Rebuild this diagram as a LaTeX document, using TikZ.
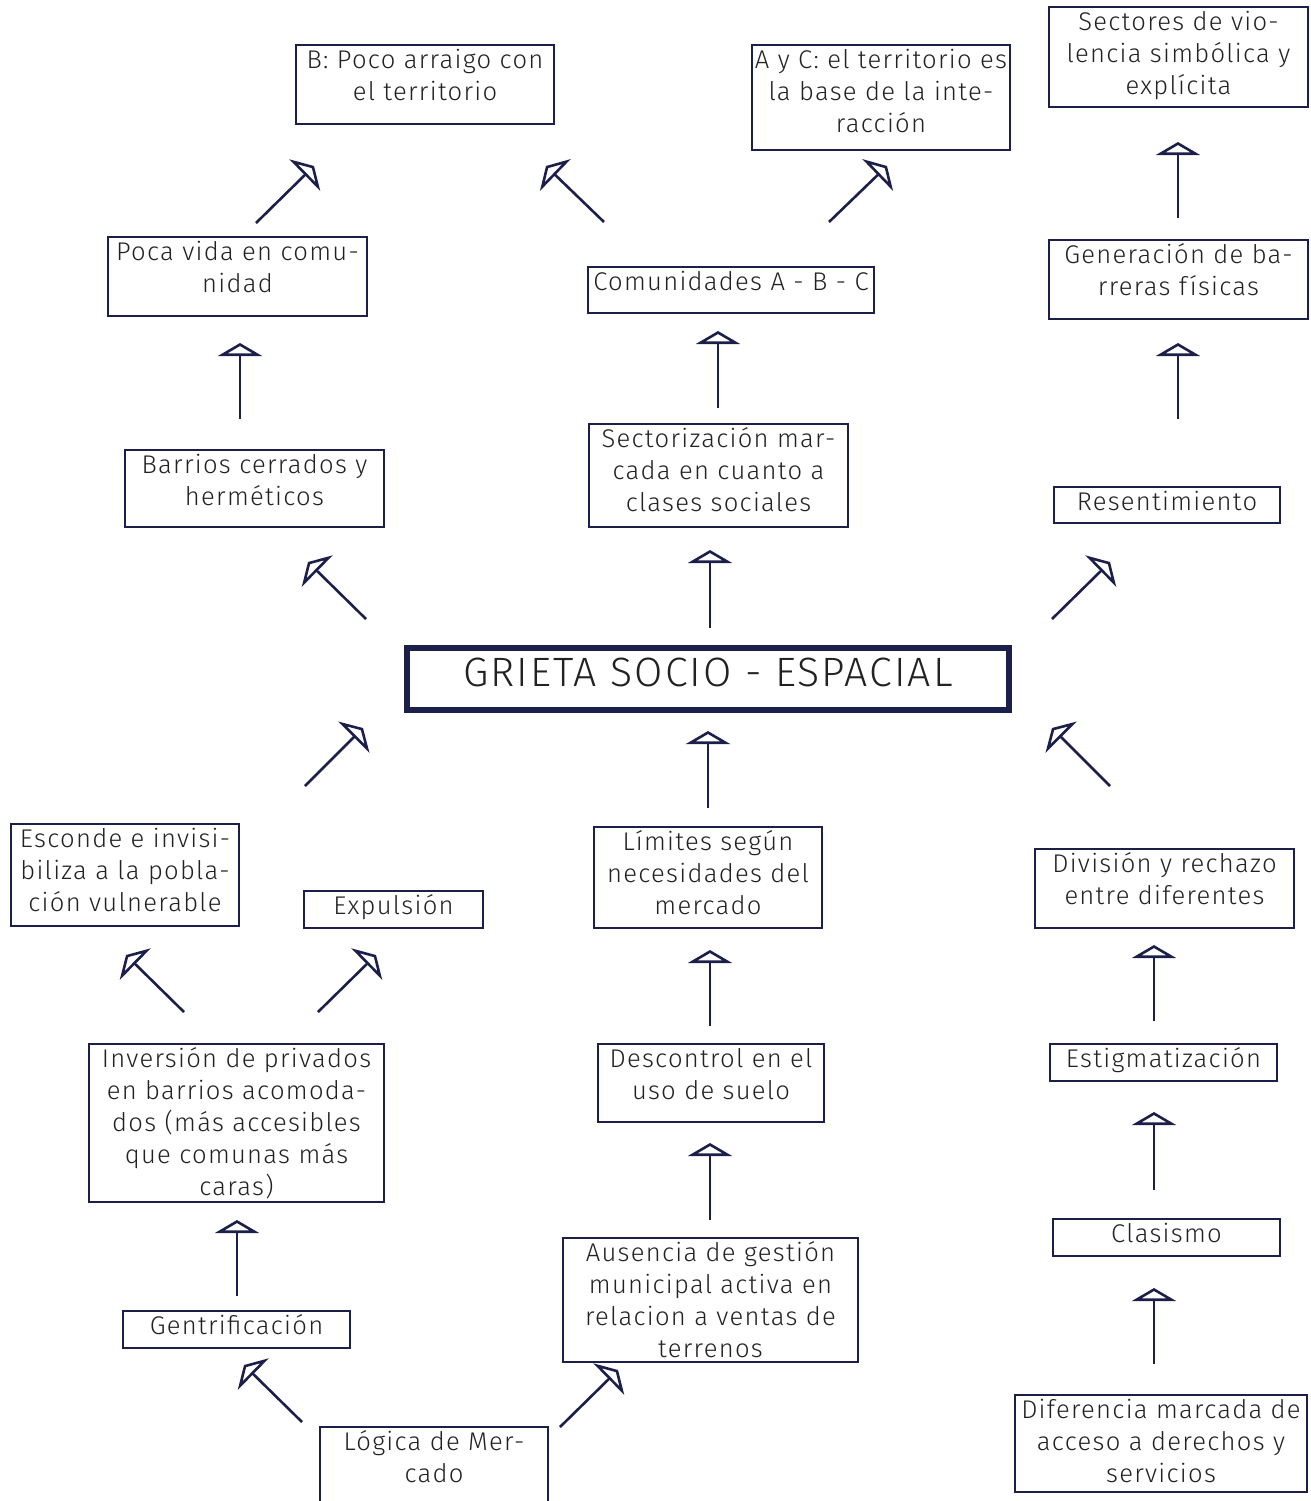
\documentclass[tikz,border=0pt]{standalone}
\usepackage{fontspec}
\setmainfont{Fira Sans}[UprightFont=* Light, LetterSpace=5]
\usetikzlibrary{arrows.meta}
\definecolor{navy}{HTML}{1C1F4A}
\definecolor{ink}{HTML}{222222}
\newcommand\tbx[4][11.5pt]{\parbox[c][#3][t]{#2}{\centering\leftskip=-30pt plus 1fil\rightskip=-30pt plus 1fil\rule{0pt}{#1}#4}}
\tikzset{
  box/.style={draw=navy, line width=1.2pt, inner sep=0pt, outer sep=0pt, anchor=north west, text=ink, font=\fontsize{12.8}{16}\selectfont},
  mainbox/.style={box, line width=3pt, font=\fontsize{20.5}{22}\selectfont},
  arr/.style={draw=navy, line width=1.3pt, -{Triangle[open, length=6.5pt, width=22pt]}}
}
\begin{document}
\begin{tikzpicture}[x=0.5pt,y=-0.5pt]
\useasboundingbox (0,0) rectangle (1311,1501);
% boxes
\node[box] (b1) at (296,45) {\tbx{129pt}{39.5pt}{B: Poco arraigo con\\el territorio}};
\node[box] (b2) at (752,45) {\tbx{129pt}{52.5pt}{A y C: el territorio es\\la base de la inte-\\racción}};
\node[box] (b3) at (1049,7) {\tbx{129.5pt}{50pt}{Sectores de vio-\\lencia simbólica y\\explícita}};
\node[box] (b4) at (108,237) {\tbx{129.5pt}{39.5pt}{Poca vida en comu-\\nidad}};
\node[box] (b5) at (588,267) {\tbx{143pt}{23pt}{Comunidades A - B - C}};
\node[box] (b6) at (1049,240) {\tbx{129.5pt}{39.5pt}{Generación de ba-\\rreras físicas}};
\node[box] (b7) at (125,450) {\tbx{129.5pt}{38.5pt}{Barrios cerrados y\\herméticos}};
\node[box] (b8) at (589,424) {\tbx{129.5pt}{51.5pt}{Sectorización mar-\\cada en cuanto a\\clases sociales}};
\node[box] (b9) at (1054,487) {\tbx{113pt}{18pt}{Resentimiento}};
\node[mainbox] (b10) at (407,648) {\tbx[19pt]{301pt}{31pt}{GRIETA SOCIO - ESPACIAL}};
\node[box] (b11) at (11,824) {\tbx{114pt}{51pt}{Esconde e invisi-\\biliza a la pobla-\\ción vulnerable}};
\node[box] (b12) at (304,891) {\tbx{89.5pt}{18.5pt}{Expulsión}};
\node[box] (b13) at (594,827) {\tbx{114pt}{50.5pt}{Límites según\\necesidades del\\mercado}};
\node[box] (b14) at (1035,849) {\tbx{129.5pt}{39.5pt}{División y rechazo\\entre diferentes}};
\node[box] (b15) at (89,1044) {\tbx{147.5pt}{79pt}{Inversión de privados\\en barrios acomoda-\\dos (más accesibles\\que comunas más\\caras)}};
\node[box] (b16) at (598,1044) {\tbx{113pt}{39pt}{Descontrol en el\\uso de suelo}};
\node[box] (b17) at (1050,1044) {\tbx{113.5pt}{18.5pt}{Estigmatización}};
\node[box] (b18) at (1053,1219) {\tbx{113.5pt}{18.5pt}{Clasismo}};
\node[box] (b19) at (123,1311) {\tbx{113.5pt}{18.5pt}{Gentrificación}};
\node[box] (b20) at (563,1238) {\tbx{147.5pt}{62pt}{Ausencia de gestión\\municipal activa en\\relacion a ventas de\\terrenos}};
\node[box] (b22) at (1015,1395) {\tbx{146pt}{48.5pt}{Diferencia marcada de\\acceso a derechos y\\servicios}};
\begin{scope}
\clip (0,0) rectangle (1311,1501);
\node[box] (b21) at (320,1427) {\tbx{114pt}{50pt}{Lógica de Mer-\\cado}};
\end{scope}
% arrow end points
\coordinate (t1) at (256,223);  \coordinate (h1) at (314,166);
\coordinate (t2) at (604,222);  \coordinate (h2) at (546,166);
\coordinate (t3) at (829,222);  \coordinate (h3) at (887,166);
\coordinate (t4) at (1178,218); \coordinate (h4) at (1178,142);
\coordinate (t5) at (240,419);  \coordinate (h5) at (240,343);
\coordinate (t6) at (718,408);  \coordinate (h6) at (718,331);
\coordinate (t7) at (1178,419); \coordinate (h7) at (1178,343);
\coordinate (t8) at (366,619);  \coordinate (h8) at (308,562);
\coordinate (t9) at (710,628);  \coordinate (h9) at (710,550);
\coordinate (t10) at (1052,619); \coordinate (h10) at (1110,562);
\coordinate (t11) at (305,786); \coordinate (h11) at (363,728);
\coordinate (t12) at (708,808); \coordinate (h12) at (708,731);
\coordinate (t13) at (1110,786); \coordinate (h13) at (1052,728);
\coordinate (t14) at (184,1012); \coordinate (h14) at (126,955);
\coordinate (t15) at (318,1012); \coordinate (h15) at (376,955);
\coordinate (t16) at (710,1026); \coordinate (h16) at (710,950);
\coordinate (t17) at (1154,1021); \coordinate (h17) at (1154,945);
\coordinate (t18) at (237,1296); \coordinate (h18) at (237,1220);
\coordinate (t19) at (710,1220); \coordinate (h19) at (710,1143);
\coordinate (t20) at (1154,1190); \coordinate (h20) at (1154,1112);
\coordinate (t21) at (302,1422); \coordinate (h21) at (244,1365);
\coordinate (t22) at (560,1427); \coordinate (h22) at (618,1370);
\coordinate (t23) at (1154,1364); \coordinate (h23) at (1154,1288);
\foreach \i in {1,...,23} { \draw[arr] (t\i) -- (h\i); }
\end{tikzpicture}
\end{document}
